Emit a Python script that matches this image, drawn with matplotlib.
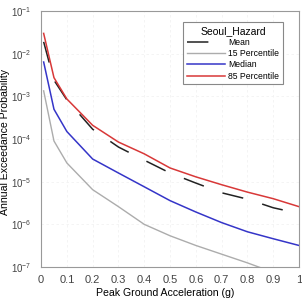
import numpy as np
import matplotlib
matplotlib.use("Agg")
import matplotlib.pyplot as plt
from matplotlib.ticker import FixedLocator

plt.rcParams['font.family'] = ['Liberation Sans', 'DejaVu Sans']
plt.rcParams['mathtext.fontset'] = 'custom'
plt.rcParams['mathtext.rm'] = 'Liberation Sans'
plt.rcParams['mathtext.default'] = 'regular'

# valores
pga = [0.01, 0.05, 0.1, 0.2, 0.3, 0.4, 0.5, 0.6, 0.7, 0.8, 0.9, 1.0]
mean = [1.9e-2, 2.4e-3, 8.3e-4, 1.7e-4, 6.5e-5, 3.2e-5, 1.6e-5, 9.3e-6, 5.5e-6, 3.9e-6, 2.45e-6, 1.8e-6]
p15 = [1.35e-3, 9.0e-5, 2.75e-5, 6.5e-6, 2.6e-6, 1.0e-6, 5.4e-7, 3.2e-7, 2.0e-7, 1.25e-7, 7.5e-8, 4.5e-8]
median = [6.4e-3, 5.0e-4, 1.5e-4, 3.4e-5, 1.6e-5, 7.6e-6, 3.6e-6, 1.95e-6, 1.1e-6, 6.7e-7, 4.6e-7, 3.2e-7]
p85 = [3.0e-2, 2.75e-3, 8.7e-4, 2.1e-4, 8.5e-5, 4.5e-5, 2.1e-5, 1.3e-5, 8.5e-6, 5.7e-6, 4.0e-6, 2.6e-6]

xticks = [0, 0.1, 0.2, 0.3, 0.4, 0.5, 0.6, 0.7, 0.8, 0.9, 1.0]
xticklabels = ['0', '0.1', '0.2', '0.3', '0.4', '0.5', '0.6', '0.7', '0.8', '0.9', '1']
yexps = [-7, -6, -5, -4, -3, -2, -1]

fig = plt.figure(figsize=(3.02, 3.00), dpi=100)
ax = fig.add_axes([0.136, 0.11, 0.854, 0.853])

ax.plot(pga, mean, color='#222222', lw=1.1, linestyle=(0, (14, 13)), label='Mean')
ax.plot(pga, p15, color='#acacac', lw=1.0, label='15 Percentile')
ax.plot(pga, median, color='#3535c8', lw=1.1, label='Median')
ax.plot(pga, p85, color='#d83838', lw=1.1, label='85 Percentile')

ax.set_yscale('log')
ax.set_xlim(0, 1)
ax.set_ylim(1e-7, 1e-1)
ax.set_xticks(xticks)
ax.set_xticklabels(xticklabels)
ax.yaxis.set_major_locator(FixedLocator([10.0 ** e for e in yexps]))
ax.set_yticklabels(['$10^{%d}$' % e for e in yexps])
ax.yaxis.set_minor_locator(FixedLocator([]))
ax.tick_params(length=0, colors='#444444')
ax.tick_params(axis='y', pad=7, labelsize=7)
ax.tick_params(axis='x', pad=5.5, labelsize=8)

ax.grid(True, color='#f2f2f2', lw=0.6, linestyle=(0, (3, 3)))
for s in ax.spines.values():
    s.set_color('#999999')
    s.set_linewidth(0.8)

ax.set_xlabel('Peak Ground Acceleration (g)', fontsize=7.6)
ax.xaxis.set_label_coords(0.48, -0.083)
ax.set_ylabel('Annual Exceedance Probability', fontsize=7.6)
ax.yaxis.set_label_coords(-0.122, 0.49)

leg = ax.legend(title='Seoul_Hazard', loc='upper right', bbox_to_anchor=(0.938, 0.957),
                borderaxespad=0, fontsize=6.2, title_fontsize=7.5, handlelength=4.4,
                handletextpad=0.4, labelspacing=0.25, borderpad=0.45,
                fancybox=False, framealpha=1)
leg.get_frame().set_edgecolor('#888888')
leg.get_frame().set_linewidth(0.8)

fig.savefig('out.png', dpi=100)
